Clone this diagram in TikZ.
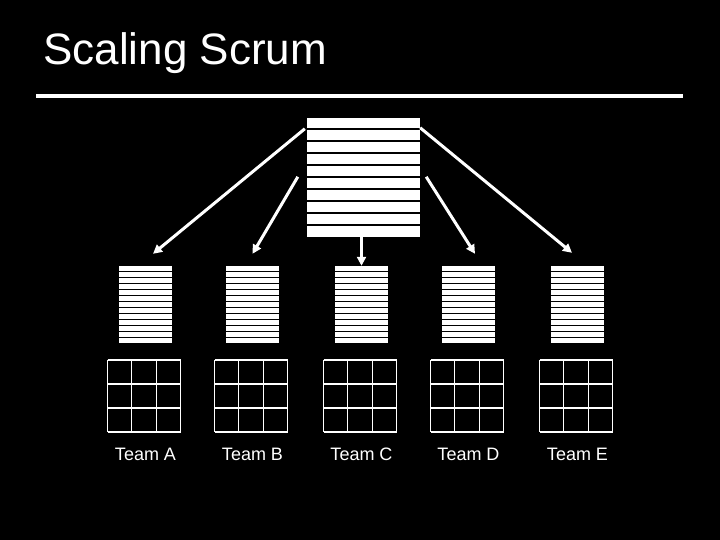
\documentclass[tikz,border=0pt]{standalone}
\usepackage{fontspec}
\setmainfont{Liberation Sans}
\usetikzlibrary{arrows.meta}

\tikzset{
  backlogbox/.style={fill=white, inner sep=0pt, minimum width=#1},
  stripe/.style={black, line width=1.2pt},
  gridline/.style={white, line width=1.3pt},
  pusharrow/.style={white, line width=3pt, -{Triangle[length=9pt,width=9pt]}},
  teamlabel/.style={white, font=\fontsize{18}{20}\selectfont}
}

\begin{document}
\begin{tikzpicture}[x=1pt, y=1pt]

\fill [black] (0,0) rectangle (720,540);
\useasboundingbox (0,0) rectangle (720,540);

\node [white, anchor=base west, inner sep=0pt, font=\fontsize{44}{50}\selectfont] (title) at (43,475) {Scaling Scrum};
\draw [white, line width=4pt] (36,444) -- (683,444);

% product backlog
\node [backlogbox=113pt, minimum height=119pt] (big) at (363.5,362.5) {};
\foreach \i in {0,...,8}
  \draw [stripe] (307,411-\i*12) -- (420,411-\i*12);

% team backlogs, sprint boards and names
\foreach \t/\x in {A/145.5, B/252.5, C/361.5, D/468.5, E/577.5}{
  \node [backlogbox=53pt, minimum height=77pt] (bl\t) at (\x,235.5) {};
  \foreach \i in {1,...,12}
    \draw [stripe, line width=1.1pt] (\x-26.5,274-\i*5.923) -- (\x+26.5,274-\i*5.923);
  \draw [gridline, shift={(\x-38,108)}, xstep=24.333, ystep=24] (0,0) grid (73,72);
  \node [teamlabel] (name\t) at (\x,86) {Team \t};
}

\coordinate (fromA) at ([shift={(-2,-11)}]big.north west);
\coordinate (fromB) at ([shift={(-9,-59)}]big.north west);
\coordinate (fromD) at ([shift={(6,-59)}]big.north east);
\coordinate (fromE) at ([shift={(0,-10)}]big.north east);
\coordinate (toA) at ([shift={(7.5,12)}]blA.north);
\coordinate (toB) at ([shift={(0,12)}]blB.north);
\coordinate (toD) at ([shift={(6.5,12)}]blD.north);
\coordinate (toE) at ([shift={(-5.5,13)}]blE.north);

\draw [pusharrow] (fromA) -- (toA);
\draw [pusharrow] (fromB) -- (toB);
\draw [pusharrow] (big.south -| blC.north) -- (blC.north);
\draw [pusharrow] (fromD) -- (toD);
\draw [pusharrow] (fromE) -- (toE);

\end{tikzpicture}
\end{document}
